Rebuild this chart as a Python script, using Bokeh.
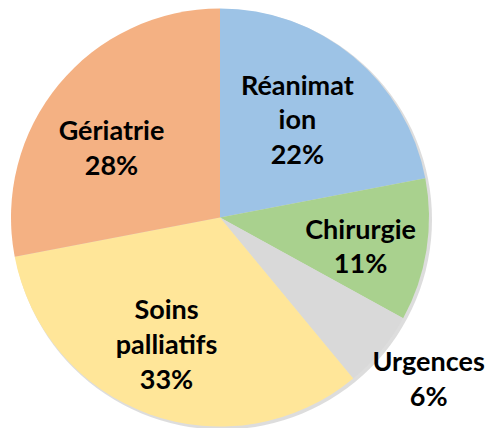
import math
from bokeh.plotting import figure
from bokeh.models import ColumnDataSource, Range1d
from bokeh.core.properties import value
from bokeh.embed import file_html
from bokeh.resources import INLINE

# ---- data ----
categories = ["Réanimat\nion", "Chirurgie", "Urgences", "Soins\npalliatifs", "Gériatrie"]
percents = [22, 11, 6, 33, 28]
colors = ["#9DC3E6", "#A9D18E", "#D9D9D9", "#FFE699", "#F4B183"]

# ---- layout ----
W, H = 491, 428
CX, CY, R = 219.5, 211.0, 209.0
label_rfrac = [0.60, 0.686, 1.26, 0.655, 0.619]
label_nudge_deg = [1.5, -2.3, 2.0, -3.2, 6.6]

total = float(sum(percents))
starts, ends, lx, ly, texts = [], [], [], [], []
cum = 0.0
for i, v in enumerate(percents):
    a0 = math.pi / 2 - 2 * math.pi * (cum + v) / total
    a1 = math.pi / 2 - 2 * math.pi * cum / total
    starts.append(a0)
    ends.append(a1)
    mid = (a0 + a1) / 2 + math.radians(label_nudge_deg[i])
    lx.append(CX + R * label_rfrac[i] * math.cos(mid))
    ly.append(CY + R * label_rfrac[i] * math.sin(mid))
    texts.append(f"{categories[i]}\n{v}%")
    cum += v

src = ColumnDataSource(dict(start=starts, end=ends, color=colors,
                            x=[CX] * len(percents), y=[CY] * len(percents)))
lsrc = ColumnDataSource(dict(x=lx, y=ly, text=texts))

p = figure(width=W, height=H, output_backend="svg", toolbar_location=None,
           x_range=Range1d(0, W), y_range=Range1d(0, H), min_border=0)
p.axis.visible = False
p.grid.visible = False
p.outline_line_color = None
p.background_fill_color = "white"

# soft shadow
p.circle(x=CX + 2, y=CY - 2, radius=R + 1, fill_color="#bbbbbb", fill_alpha=0.5,
         line_color=None)
p.wedge(x="x", y="y", radius=R, start_angle="start", end_angle="end",
        direction="anticlock", fill_color="color", line_color=None, source=src)

p.text(x="x", y="y", text="text", source=lsrc, text_align="center",
       text_baseline="middle", text_font=value("Lato"), text_font_style="bold",
       text_font_size="27px", text_color="black", text_line_height=1.05)

open("out.html", "w").write(file_html(p, INLINE))
